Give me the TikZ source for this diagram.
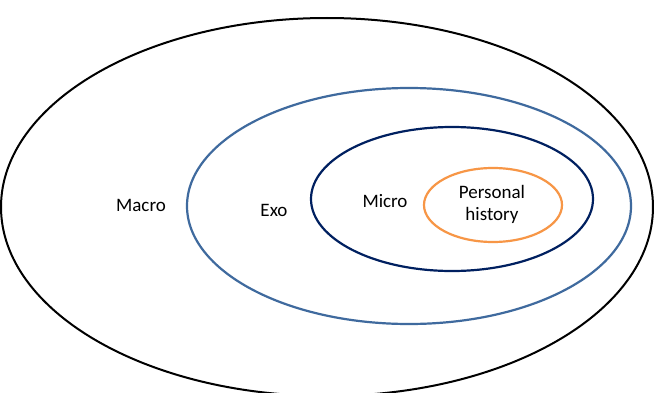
\documentclass[tikz,border=0pt]{standalone}
\usepackage{fontspec}
\setmainfont{Carlito}
\usepackage{tikz}
\definecolor{ExoBlue}{RGB}{63,106,158}
\definecolor{MicroBlue}{RGB}{0,32,96}
\definecolor{HistOrange}{RGB}{247,150,70}

\begin{document}
\begin{tikzpicture}[x=1pt,y=1pt,
    ring/.style={line width=2.2pt},
    lbl/.style={font=\fontsize{19}{22}\selectfont,align=center,inner sep=0pt}]
            \useasboundingbox (0,0) rectangle (654,392);
            \fill[white] (0,0) rectangle (654,392);
            % levels, from outside in
            \draw[line width=2pt,black] (327,185) ellipse [x radius=326, y radius=189];
            \draw[ring,ExoBlue] (409,186) ellipse [x radius=222, y radius=118];
            \draw[ring,MicroBlue] (452,193) ellipse [x radius=141, y radius=72];
            \draw[ring,HistOrange] (493,187) ellipse [x radius=69, y radius=37];
            \node[lbl] (macro) at (141,187) {Macro};
            \node[lbl] (exo) at (274,182) {Exo};
            \node[lbl] (micro) at (385,191) {Micro};
            \node[lbl] (history) at (492,188) {Personal\\history};
        \end{tikzpicture}
\end{document}
